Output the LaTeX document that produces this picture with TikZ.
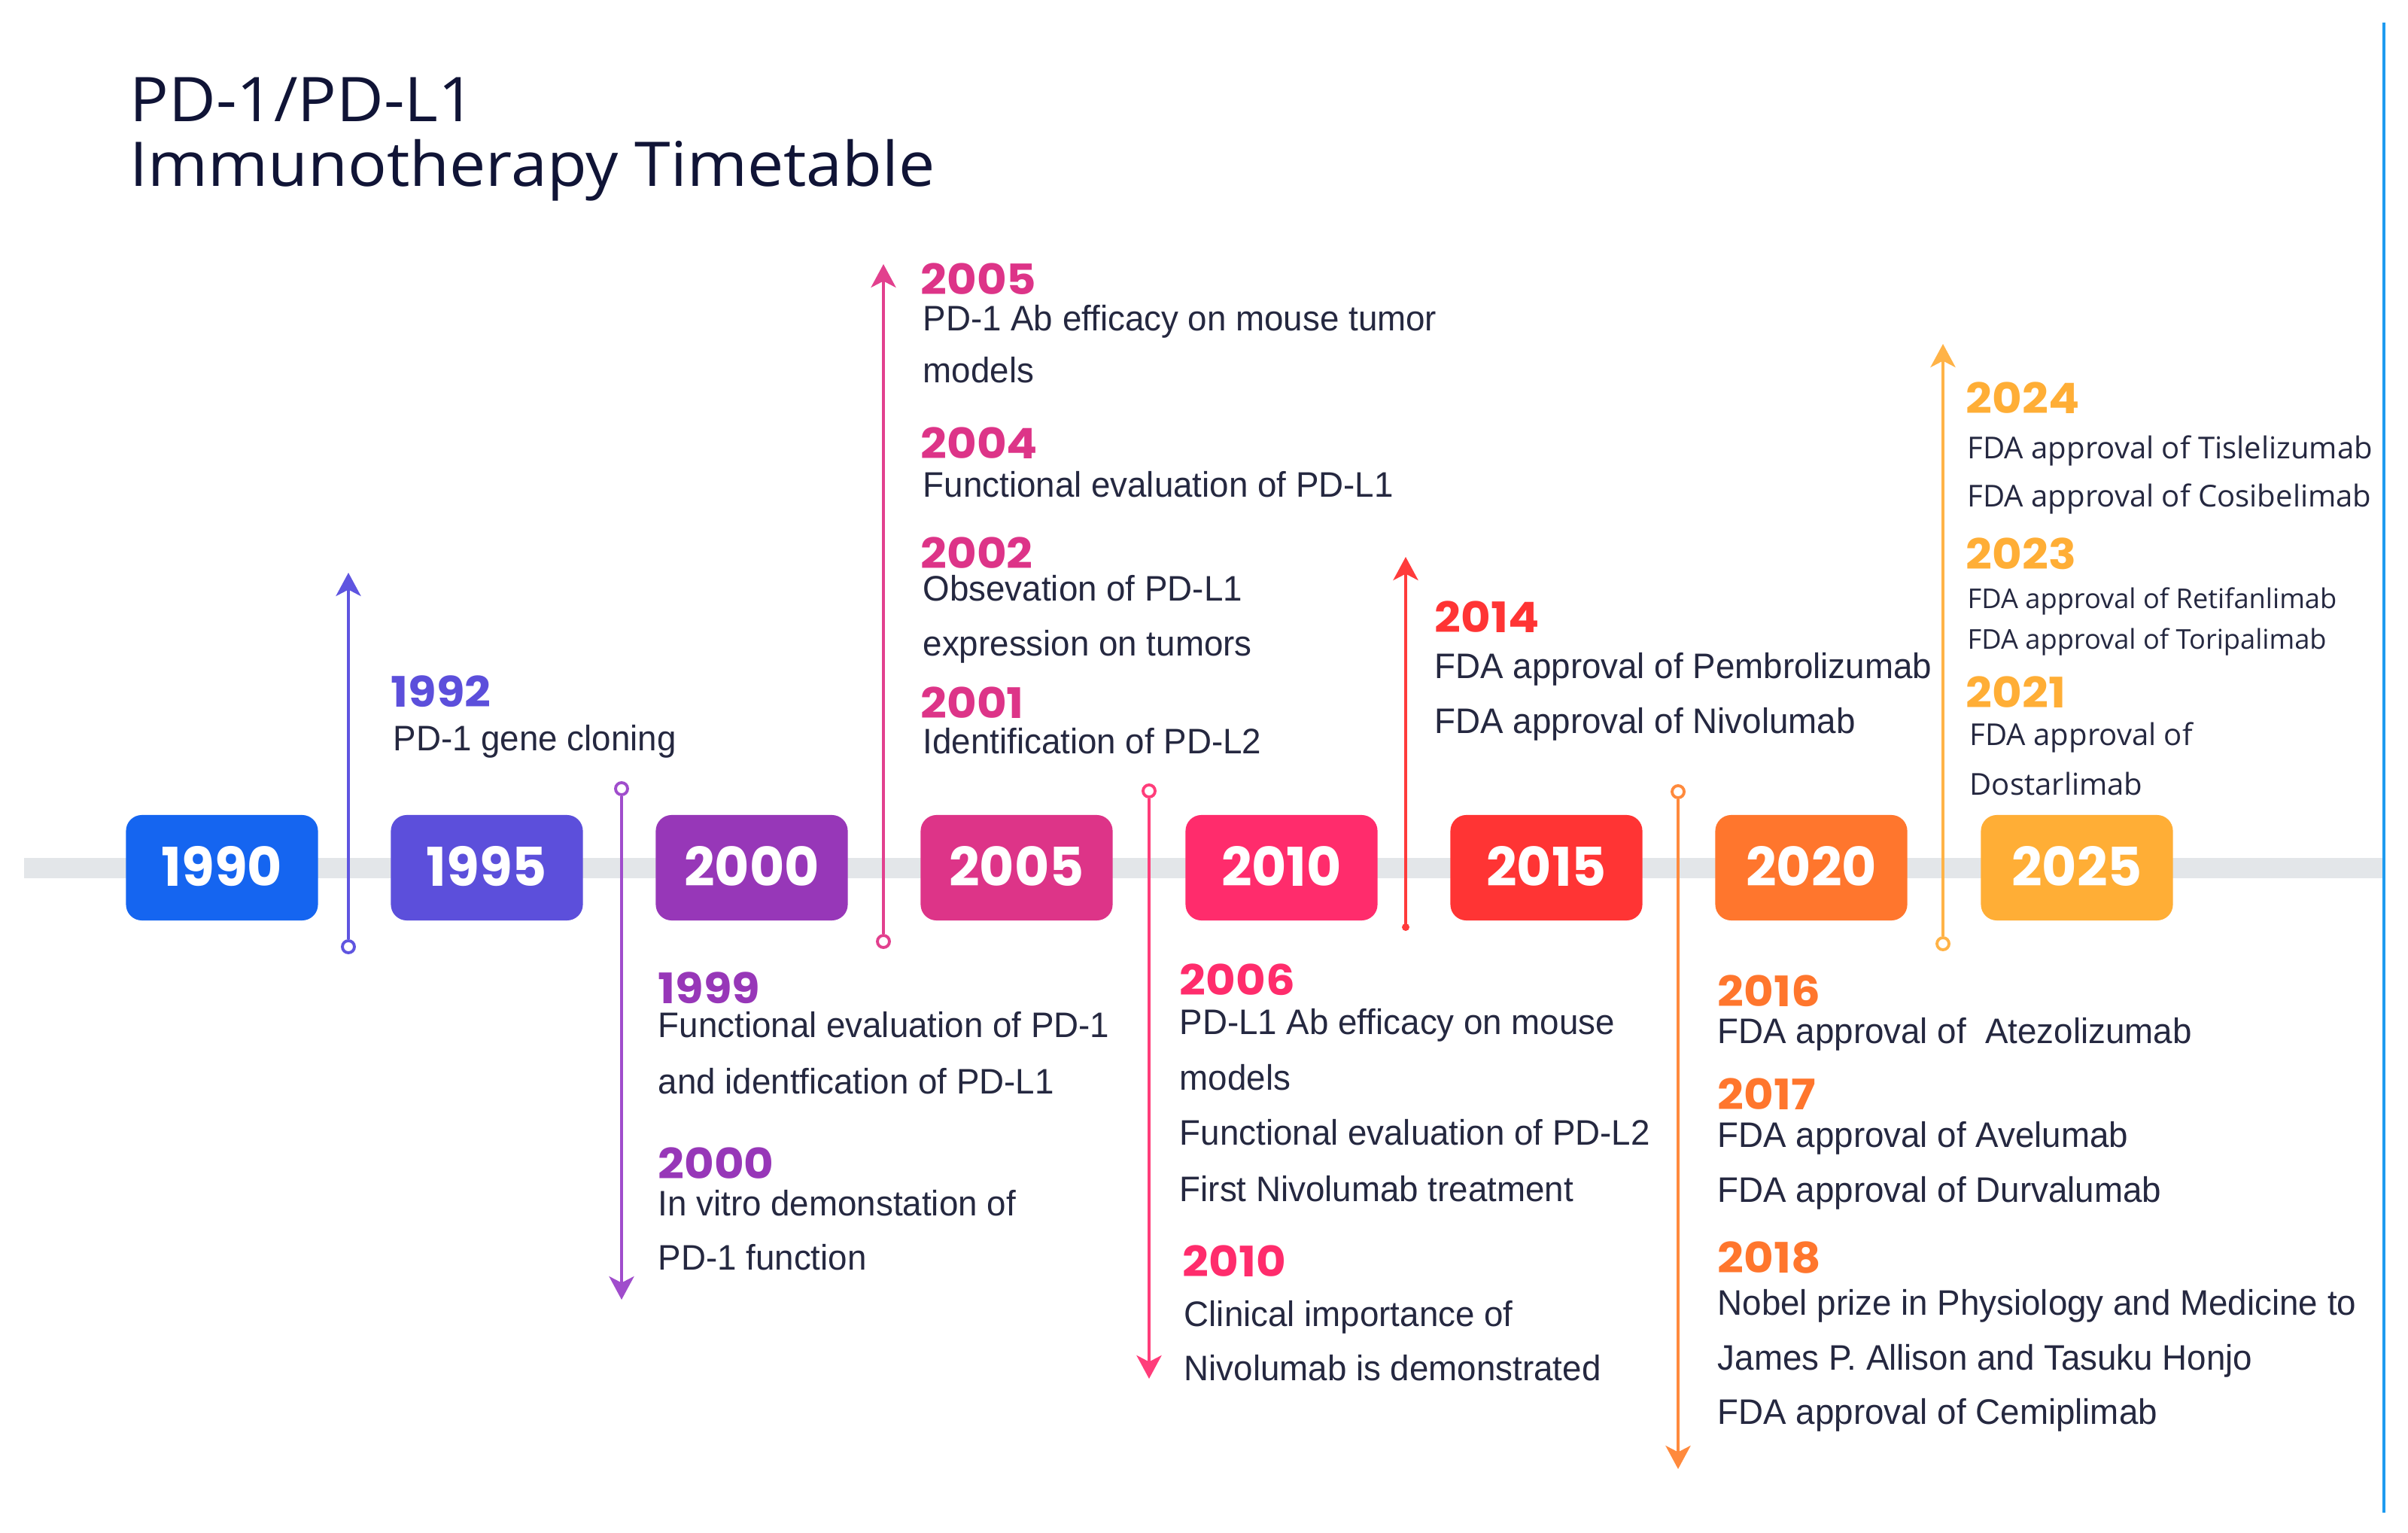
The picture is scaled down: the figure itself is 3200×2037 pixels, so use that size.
\documentclass[tikz,border=0pt]{standalone}
\usepackage{fontspec}
\usetikzlibrary{arrows.meta}
\newfontfamily\bodyfont[FakeStretch=0.97]{Liberation Sans}
\newfontfamily\yearfont[FakeStretch=1.09]{Poppins}
\newfontfamily\boxfont{Poppins}
\newfontfamily\widefont{Open Sans}
\newfontfamily\titlefont[FakeStretch=1.05]{Open Sans}
\definecolor{cA}{HTML}{1565F0}
\definecolor{cB}{HTML}{5C4FDB}
\definecolor{cC}{HTML}{9737B8}
\definecolor{cD}{HTML}{DD3488}
\definecolor{cE}{HTML}{FF2C6C}
\definecolor{cF}{HTML}{FF3434}
\definecolor{cG}{HTML}{FF762D}
\definecolor{cH}{HTML}{FFAE36}
\definecolor{lnB}{HTML}{5F55E0}
\definecolor{lnC}{HTML}{A04DCC}
\definecolor{lnD}{HTML}{E2408E}
\definecolor{lnE}{HTML}{FF3D7A}
\definecolor{lnF}{HTML}{FF3B3B}
\definecolor{lnG}{HTML}{FF8A3D}
\definecolor{lnH}{HTML}{FFB347}
\definecolor{txt}{HTML}{252840}
\definecolor{ttl}{HTML}{101436}
\definecolor{barc}{HTML}{E3E6E9}
\definecolor{edge}{HTML}{1E9BF0}
\tikzset{
  body/.style={anchor=base west, inner sep=0pt, text=txt, font=\bodyfont\fontsize{13.4}{16}\selectfont},
  wbody/.style={anchor=base west, inner sep=0pt, text=txt, font=\widefont\fontsize{11.4}{14}\selectfont},
  sbody/.style={anchor=base west, inner sep=0pt, text=txt, font=\widefont\fontsize{10.3}{12}\selectfont},
  yr/.style={anchor=base west, inner sep=0pt, font=\yearfont\bfseries\fontsize{15.9}{18}\selectfont},
  ttlstyle/.style={anchor=base west, inner sep=0pt, text=ttl, font=\titlefont\fontsize{23.3}{28}\selectfont},
  yearbox/.style={draw=none, rounded corners=6pt, minimum width=2.55cm, minimum height=1.4cm, inner sep=0pt, text=white, font=\boxfont\bfseries\fontsize{20.2}{24}\selectfont},
  tl/.style={line width=1.28pt, -{Stealth[length=8.8pt,width=9.4pt,inset=2.4pt]}},
  opencirc/.style={circle, draw, fill=white, line width=1.1pt, minimum size=0.16cm, inner sep=0pt},
  fulldot/.style={circle, fill, minimum size=0.1cm, inner sep=0pt}
}
\newcommand\boxyear[1]{\raisebox{1.2pt}{#1}}
\begin{document}
\begin{tikzpicture}[x=0.01cm,y=-0.01cm]
\useasboundingbox[fill=white] (0,0) rectangle (3200,2037);
% base bar and right edge
\fill[barc] (32,1140) rectangle (3168,1167);
\draw[edge, line width=1.2pt] (3168,30) -- (3168,2010);
% title
\node[ttlstyle] (title1) at (172,162) {PD-1/PD-L1};
\node[ttlstyle] (title2) at (172,248) {Immunotherapy Timetable};
% year boxes
\node[yearbox, fill=cA] (b1990) at (295,1153) {\boxyear{1990}};
\node[yearbox, fill=cB] (b1995) at (647,1153) {\boxyear{1995}};
\node[yearbox, fill=cC] (b2000) at (999,1153) {\boxyear{2000}};
\node[yearbox, fill=cD] (b2005) at (1351,1153) {\boxyear{2005}};
\node[yearbox, fill=cE] (b2010) at (1703,1153) {\boxyear{2010}};
\node[yearbox, fill=cF] (b2015) at (2055,1153) {\boxyear{2015}};
\node[yearbox, fill=cG] (b2020) at (2407,1153) {\boxyear{2020}};
\node[yearbox, fill=cH] (b2025) at (2760,1153) {\boxyear{2025}};
% connectors
\node[opencirc, draw=lnB] (s1) at (463,1258) {};
\coordinate (e1) at (463,761);
\draw[tl, lnB] (s1) -- (e1);
\node[opencirc, draw=lnC] (s2) at (826,1048) {};
\coordinate (e2) at (826,1727);
\draw[tl, lnC] (s2) -- (e2);
\node[opencirc, draw=lnD] (s3) at (1174,1251) {};
\coordinate (e3) at (1174,351);
\draw[tl, lnD] (s3) -- (e3);
\node[opencirc, draw=lnE] (s4) at (1527,1051) {};
\coordinate (e4) at (1527,1832);
\draw[tl, lnE] (s4) -- (e4);
\node[fulldot, fill=lnF] (s5) at (1868,1232) {};
\coordinate (e5) at (1868,740);
\draw[tl, lnF] (s5.center) -- (e5);
\node[opencirc, draw=lnG] (s6) at (2230,1052) {};
\coordinate (e6) at (2230,1952);
\draw[tl, lnG] (s6) -- (e6);
\node[opencirc, draw=lnH] (s7) at (2582,1254) {};
\coordinate (e7) at (2582,457);
\draw[tl, lnH] (s7) -- (e7);
% 1992
\node[yr, text=cB] (y1992) at (519,939) {1992};
\node[body] (t1992a) at (522,997) {PD-1 gene cloning};
% 1999 / 2000
\node[yr, text=cC] (y1999) at (874,1333) {1999};
\node[body] (t1999a) at (874,1378) {Functional evaluation of PD-1};
\node[body] (t1999b) at (874,1453) {and identfication of PD-L1};
\node[yr, text=cC] (y2000) at (874,1566) {2000};
\node[body] (t2000a) at (874,1615) {In vitro demonstation of};
\node[body] (t2000b) at (874,1687) {PD-1 function};
% 2005 .. 2001
\node[yr, text=cD] (y2005) at (1223,392) {2005};
\node[body] (t2005a) at (1226,440) {PD-1 Ab efficacy on mouse tumor};
\node[body] (t2005b) at (1226,509) {models};
\node[yr, text=cD] (y2004) at (1223,610) {2004};
\node[body] (t2004a) at (1226,660) {Functional evaluation of PD-L1};
\node[yr, text=cD] (y2002) at (1223,755) {2002};
\node[body] (t2002a) at (1226,798) {Obsevation of PD-L1};
\node[body] (t2002b) at (1226,871) {expression on tumors};
\node[yr, text=cD] (y2001) at (1223,954) {2001};
\node[body] (t2001a) at (1226,1001) {Identification of PD-L2};
% 2006 / 2010
\node[yr, text=cE] (y2006) at (1567,1322) {2006};
\node[body] (t2006a) at (1567,1374) {PD-L1 Ab efficacy on mouse};
\node[body] (t2006b) at (1567,1448) {models};
\node[body] (t2006c) at (1567,1521) {Functional evaluation of PD-L2};
\node[body] (t2006d) at (1567,1596) {First Nivolumab treatment};
\node[yr, text=cE] (y2010) at (1571,1696) {2010};
\node[body] (t2010a) at (1573,1762) {Clinical importance of};
\node[body] (t2010b) at (1573,1834) {Nivolumab is demonstrated};
% 2014
\node[yr, text=cF] (y2014) at (1906,840) {2014};
\node[body] (t2014a) at (1906,901) {FDA approval of Pembrolizumab};
\node[body] (t2014b) at (1906,974) {FDA approval of Nivolumab};
% 2016 - 2018
\node[yr, text=cG] (y2016) at (2282,1337) {2016};
\node[body] (t2016a) at (2282,1386) {FDA approval of\ \ Atezolizumab};
\node[yr, text=cG] (y2017) at (2282,1474) {2017};
\node[body] (t2017a) at (2282,1524) {FDA approval of Avelumab};
\node[body] (t2017b) at (2282,1597) {FDA approval of Durvalumab};
\node[yr, text=cG] (y2018) at (2282,1691) {2018};
\node[body] (t2018a) at (2282,1747) {Nobel prize in Physiology and Medicine to};
\node[body] (t2018b) at (2282,1820) {James P. Allison and Tasuku Honjo};
\node[body] (t2018c) at (2282,1892) {FDA approval of Cemiplimab};
% 2024 - 2021
\node[yr, text=cH] (y2024) at (2612,550) {2024};
\node[wbody] (t2024a) at (2614,610) {FDA approval of Tislelizumab};
\node[wbody] (t2024b) at (2614,673) {FDA approval of Cosibelimab};
\node[yr, text=cH] (y2023) at (2612,757) {2023};
\node[sbody] (t2023a) at (2614,808) {FDA approval of Retifanlimab};
\node[sbody] (t2023b) at (2614,862) {FDA approval of Toripalimab};
\node[yr, text=cH] (y2021) at (2612,940) {2021};
\node[wbody] (t2021a) at (2617,990) {FDA approval of};
\node[wbody] (t2021b) at (2617,1056) {Dostarlimab};
\end{tikzpicture}
\end{document}
